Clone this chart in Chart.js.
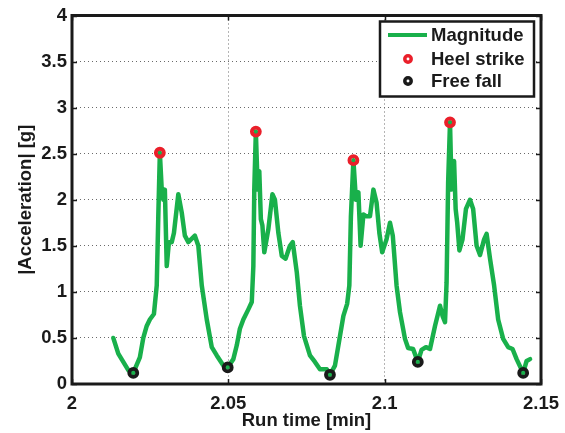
<!DOCTYPE html>
<html>
<head>
<meta charset="utf-8">
<title>Acceleration magnitude during running</title>
<script src="https://cdn.jsdelivr.net/npm/chart.js@4/dist/chart.umd.min.js"></script>
<style>
  html, body { margin: 0; padding: 0; background: #ffffff; }
  #wrap { width: 565px; height: 433px; position: relative; }
</style>
</head>
<body>
<div id="wrap"><canvas id="chart" width="565" height="433"></canvas></div>
<script>
// Run time [min] and acceleration magnitude [g]
const runTime = [
  2.0132, 2.0148, 2.0164, 2.0180, 2.0196, 2.0217, 2.0228, 2.0239, 2.0249, 2.0262,
  2.0271, 2.0276, 2.0281, 2.0287, 2.0292, 2.0297, 2.0303, 2.0310, 2.0319, 2.0326,
  2.0340, 2.0351, 2.0361, 2.0372, 2.0393, 2.0404, 2.0415, 2.0431, 2.0447, 2.0463,
  2.0484, 2.0498, 2.0516, 2.0527, 2.0537, 2.0548, 2.0564, 2.0575, 2.0580, 2.0583,
  2.0588, 2.0594, 2.0599, 2.0604, 2.0609, 2.0615, 2.0628, 2.0641, 2.0649, 2.0660,
  2.0671, 2.0683, 2.0697, 2.0706, 2.0719, 2.0729, 2.0742, 2.0761, 2.0777, 2.0793,
  2.0815, 2.0825, 2.0841, 2.0852, 2.0868, 2.0880, 2.0887, 2.0892, 2.0900, 2.0908,
  2.0916, 2.0923, 2.0932, 2.0942, 2.0953, 2.0964, 2.0974, 2.0983, 2.0992, 2.1006,
  2.1017, 2.1026, 2.1038, 2.1049, 2.1065, 2.1075, 2.1091, 2.1106, 2.1118, 2.1132,
  2.1145, 2.1161, 2.1177, 2.1185, 2.1193, 2.1198, 2.1203, 2.1209, 2.1214, 2.1222,
  2.1227, 2.1232, 2.1239, 2.1249, 2.1260, 2.1273, 2.1283, 2.1294, 2.1305, 2.1318,
  2.1326, 2.1337, 2.1350, 2.1363, 2.1379, 2.1395, 2.1409, 2.1422, 2.1443, 2.1454,
  2.1465
];
const magnitude = [
  0.50, 0.33, 0.24, 0.15, 0.12, 0.29, 0.50, 0.63, 0.70, 0.76,
  1.07, 1.82, 2.51, 2.11, 2.00, 2.11, 1.28, 1.54, 1.54, 1.64,
  2.06, 1.86, 1.61, 1.54, 1.61, 1.50, 1.07, 0.70, 0.40, 0.31,
  0.20, 0.18, 0.27, 0.42, 0.60, 0.70, 0.81, 0.89, 1.28, 2.11,
  2.74, 2.11, 2.31, 1.79, 1.72, 1.43, 1.68, 2.06, 2.00, 1.64,
  1.39, 1.36, 1.50, 1.54, 1.21, 0.85, 0.52, 0.31, 0.24, 0.16,
  0.16, 0.10, 0.20, 0.42, 0.74, 0.87, 1.07, 1.82, 2.43, 2.00,
  2.08, 1.50, 1.84, 1.82, 1.82, 2.11, 1.97, 1.64, 1.43, 1.57,
  1.75, 1.61, 1.07, 0.78, 0.49, 0.39, 0.38, 0.24, 0.37, 0.40,
  0.38, 0.63, 0.85, 0.74, 0.67, 1.10, 2.19, 2.84, 2.11, 2.42,
  1.90, 1.75, 1.45, 1.57, 1.90, 2.00, 1.90, 1.50, 1.40, 1.57,
  1.63, 1.36, 1.07, 0.70, 0.49, 0.40, 0.38, 0.27, 0.12, 0.25,
  0.27
];

// Detected events (points on the magnitude curve)
const heelStrikeTime  = [2.0281, 2.0588, 2.0900, 2.1209];
const heelStrikeValue = [2.51, 2.74, 2.43, 2.84];
const freeFallTime    = [2.0196, 2.0498, 2.0825, 2.1106, 2.1443];
const freeFallValue   = [0.12, 0.18, 0.10, 0.24, 0.12];

// Axis ticks
const xTickValues = [2, 2.05, 2.1, 2.15];
const yTickValues = [0, 0.5, 1, 1.5, 2, 2.5, 3, 3.5, 4];

const seriesNames = ['Magnitude', 'Heel strike', 'Free fall'];

const GREEN = '#19b04b';
const RED = '#ea1f2a';
const BLACK = '#1a1a1a';
const GRID = '#6a6a6a';
const FONT = "'Liberation Sans', Arial, Helvetica, sans-serif";
const FONT_SIZE = 18.5;

const toPoints = (xs, ys) => xs.map((x, i) => ({ x: x, y: ys[i] }));

function fmtTick(v) {
  return String(Number(v.toFixed(4)));
}

// Box around the axes with inward tick marks, plus the legend
const axesBoxPlugin = {
  id: 'axesBox',
  afterDatasetsDraw(chart) {
    const { ctx, chartArea: a, scales } = chart;
    ctx.save();
    ctx.strokeStyle = BLACK;
    ctx.lineWidth = 1.5;
    const tl = 5;
    scales.x.ticks.forEach(t => {
      const px = Math.round(scales.x.getPixelForValue(t.value)) + 0.5;
      ctx.beginPath();
      ctx.moveTo(px, a.bottom); ctx.lineTo(px, a.bottom - tl);
      ctx.moveTo(px, a.top); ctx.lineTo(px, a.top + tl);
      ctx.stroke();
    });
    scales.y.ticks.forEach(t => {
      const py = Math.round(scales.y.getPixelForValue(t.value)) + 0.5;
      ctx.beginPath();
      ctx.moveTo(a.left, py); ctx.lineTo(a.left + tl, py);
      ctx.moveTo(a.right, py); ctx.lineTo(a.right - tl, py);
      ctx.stroke();
    });
    ctx.lineWidth = 3;
    ctx.strokeRect(a.left, a.top, a.right - a.left, a.bottom - a.top);
    ctx.restore();
  },
  afterDraw(chart) {
    const { ctx, chartArea: a } = chart;
    const boxR = a.right - 7, boxL = boxR - 154;
    const boxT = a.top + 6, boxB = boxT + 75;
    ctx.save();
    ctx.fillStyle = '#ffffff';
    ctx.fillRect(boxL, boxT, boxR - boxL, boxB - boxT);
    ctx.strokeStyle = BLACK;
    ctx.lineWidth = 2.5;
    ctx.strokeRect(boxL, boxT, boxR - boxL, boxB - boxT);

    const rows = [boxT + 13.5, boxT + 37.5, boxT + 59.5];
    const symX = boxL + 28;
    const textX = boxL + 51;

    // line sample
    ctx.strokeStyle = GREEN;
    ctx.lineWidth = 4;
    ctx.beginPath();
    ctx.moveTo(boxL + 8, rows[0]); ctx.lineTo(boxL + 47, rows[0]);
    ctx.stroke();

    // marker samples
    [[RED, rows[1]], [BLACK, rows[2]]].forEach(([c, y]) => {
      ctx.strokeStyle = c;
      ctx.lineWidth = 3.5;
      ctx.beginPath();
      ctx.arc(symX, y, 3.2, 0, Math.PI * 2);
      ctx.stroke();
    });

    ctx.fillStyle = BLACK;
    ctx.font = `bold ${FONT_SIZE}px ${FONT}`;
    ctx.textBaseline = 'middle';
    ctx.textAlign = 'left';
    seriesNames.forEach((n, i) => ctx.fillText(n, textX, rows[i] + 1));
    ctx.restore();
  }
};

new Chart(document.getElementById('chart'), {
  type: 'line',
  data: {
    datasets: [
      {
        label: seriesNames[0],
        data: toPoints(runTime, magnitude),
        borderColor: GREEN,
        borderWidth: 4.5,
        pointRadius: 0,
        tension: 0,
        fill: false,
        borderJoinStyle: 'round',
        borderCapStyle: 'round',
        order: 3
      },
      {
        label: seriesNames[1],
        data: toPoints(heelStrikeTime, heelStrikeValue),
        showLine: false,
        pointRadius: 4,
        pointBorderWidth: 3.8,
        pointBorderColor: RED,
        pointBackgroundColor: 'rgba(0,0,0,0)',
        order: 1
      },
      {
        label: seriesNames[2],
        data: toPoints(freeFallTime, freeFallValue),
        showLine: false,
        pointRadius: 4,
        pointBorderWidth: 3.8,
        pointBorderColor: BLACK,
        pointBackgroundColor: 'rgba(0,0,0,0)',
        order: 2
      }
    ]
  },
  options: {
    responsive: false,
    animation: false,
    events: [],
    layout: { padding: { top: 15.5, right: 24, left: 0, bottom: 0 } },
    plugins: {
      legend: { display: false },
      tooltip: { enabled: false }
    },
    scales: {
      x: {
        type: 'linear',
        min: 2,
        max: 2.15,
        afterBuildTicks: s => { s.ticks = xTickValues.map(v => ({ value: v })); },
        afterFit: s => { s.height = 49; s.paddingLeft = 0; s.paddingRight = 0; },
        border: { display: false, dash: [1, 3] },
        grid: {
          drawTicks: false,
          color: GRID,
          lineWidth: 1
        },
        ticks: {
          color: BLACK,
          font: { family: FONT, size: FONT_SIZE, weight: 'bold' },
          padding: 9,
          maxRotation: 0,
          callback: v => fmtTick(v)
        },
        title: {
          display: true,
          text: 'Run time [min]',
          color: BLACK,
          font: { family: FONT, size: FONT_SIZE, weight: 'bold' },
          padding: { top: 0, bottom: 1 }
        }
      },
      y: {
        type: 'linear',
        min: 0,
        max: 4,
        afterBuildTicks: s => { s.ticks = yTickValues.map(v => ({ value: v })); },
        afterFit: s => { s.width = 72; s.paddingTop = 0; s.paddingBottom = 0; },
        border: { display: false, dash: [1, 3] },
        grid: {
          drawTicks: false,
          color: GRID,
          lineWidth: 1
        },
        ticks: {
          color: BLACK,
          font: { family: FONT, size: FONT_SIZE, weight: 'bold' },
          padding: 5,
          callback: v => fmtTick(v)
        },
        title: {
          display: true,
          text: '|Acceleration| [g]',
          color: BLACK,
          font: { family: FONT, size: FONT_SIZE, weight: 'bold' },
          padding: { top: 15, bottom: 0 }
        }
      }
    }
  },
  plugins: [axesBoxPlugin]
});
</script>
</body>
</html>
